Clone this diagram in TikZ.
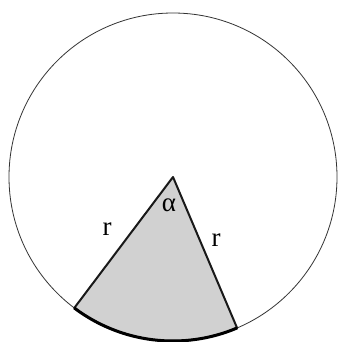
\documentclass[tikz,border=0pt]{standalone}
\usepackage{fontspec}
\setmainfont{Liberation Serif}
\begin{document}
\begin{tikzpicture}[x=1pt,y=-1pt,
  lbl/.style={font=\fontsize{27}{30}\selectfont, inner sep=0pt},
  rim/.style={draw=black!80, line width=0.8pt},
  side/.style={draw=black!90, fill=black!18, line width=2pt, line join=round},
  arcline/.style={draw=black, line width=3pt}]
\useasboundingbox (0,0) rectangle (339,342);
\fill[white] (0,0) rectangle (339,342);
\coordinate (O) at (173,177);
\path (O) ++(127:164) coordinate (A);
\path (O) ++(67:164) coordinate (B);
\draw[rim] (O) circle (164);
\filldraw[side] (O) -- (A) arc[start angle=127, end angle=67, radius=164] -- cycle;
\draw[arcline] (A) arc[start angle=127, end angle=67, radius=164];
\node[lbl] (rl) at (107,229) {r};
\node[lbl] (rr) at (216,240) {r};
\node[lbl] (al) at (169,205) {α};
\end{tikzpicture}
\end{document}
